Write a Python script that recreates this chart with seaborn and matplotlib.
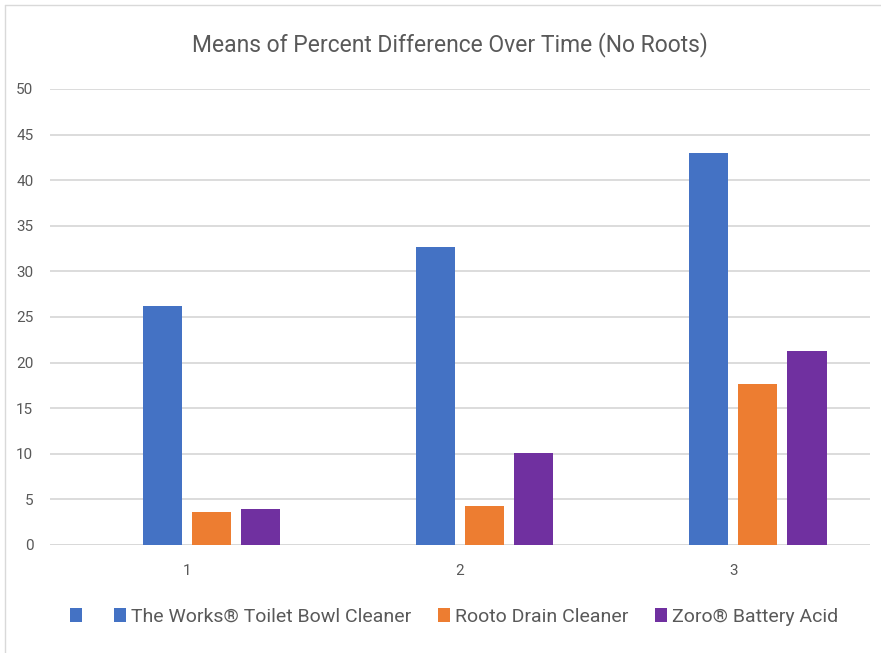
import matplotlib
matplotlib.use("Agg")
import matplotlib.pyplot as plt
import pandas as pd
import seaborn as sns
from matplotlib.patches import Patch
from matplotlib.lines import Line2D

# Values
time_points = ["1", "2", "3"]
series_names = [" ", "The Works® Toilet Bowl Cleaner", "Rooto Drain Cleaner", "Zoro® Battery Acid"]
blank_series = [0, 0, 0]          # unnamed, empty first series in the original workbook
works_toilet = [26.2, 32.7, 43.0]
rooto_drain = [3.6, 4.3, 17.7]
zoro_acid = [3.9, 10.1, 21.3]
series_colors = ["#4472C4", "#4472C4", "#ED7D31", "#7030A0"]

rows = []
for name, vals in zip(series_names, [blank_series, works_toilet, rooto_drain, zoro_acid]):
    for t, v in zip(time_points, vals):
        rows.append({"time": t, "series": name, "value": v})
df = pd.DataFrame(rows)

sns.set_theme(style="white")
plt.rcParams['font.family'] = ['Roboto', 'DejaVu Sans']

fig = plt.figure(figsize=(8.81, 6.53), dpi=100)
ax = fig.add_axes([50 / 881, 108 / 653, 820 / 881, 456 / 653])

sns.barplot(data=df, x="time", y="value", hue="series", hue_order=series_names,
            palette=series_colors, order=time_points, width=0.718, gap=0.2,
            saturation=1, linewidth=0, legend=False, ax=ax)

ax.set_ylim(0, 50)
ax.set_xlim(-0.5, 2.5)
ax.set_yticks(range(0, 51, 5))
ax.yaxis.grid(True, color="#D9D9D9", linewidth=1.3)
ax.set_axisbelow(True)
for s in ax.spines.values():
    s.set_visible(False)
ax.axhline(0, color="#D9D9D9", linewidth=1.3, zorder=0.5)
ax.tick_params(axis="both", length=0, labelsize=11, labelcolor="#595959")
ax.tick_params(axis="y", pad=12)
ax.tick_params(axis="x", pad=14)
ax.set_xlabel("")
ax.set_ylabel("")

fig.text(450 / 881, 1 - 45 / 653, "Means of Percent Difference Over Time (No Roots)",
         ha="center", va="center", fontsize=16.5, color="#595959")

handles = [Patch(facecolor=c, edgecolor="none") for c in series_colors]
labels = [""] + series_names[1:]
fig.legend(handles, labels, loc="center", bbox_to_anchor=(454 / 881, 1 - 617 / 653),
           ncol=4, frameon=False, fontsize=14, labelcolor="#595959",
           handlelength=0.6, handleheight=0.7, handletextpad=0.25, columnspacing=1.4)

# light chart-area border (left and top)
fig.add_artist(Line2D([5 / 881, 5 / 881], [0, 1 - 5 / 653], color="#D9D9D9", linewidth=1))
fig.add_artist(Line2D([5 / 881, 1], [1 - 5 / 653, 1 - 5 / 653], color="#D9D9D9", linewidth=1))

fig.savefig("out.png", dpi=100)
